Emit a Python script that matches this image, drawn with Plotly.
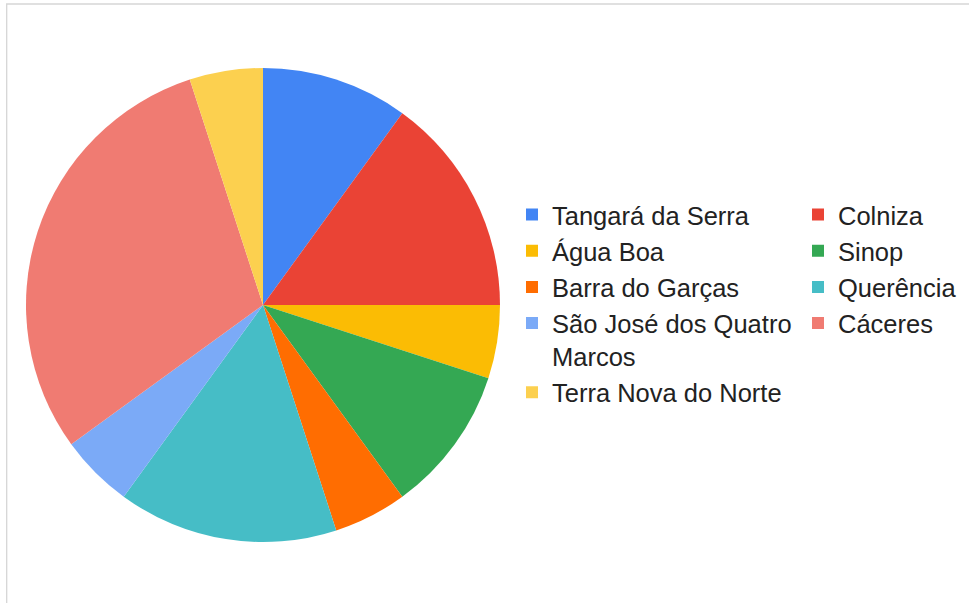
import plotly.graph_objects as go

# ---- data ----
cities = [
    "Tangará da Serra",
    "Colniza",
    "Água Boa",
    "Sinop",
    "Barra do Garças",
    "Querência",
    "São José dos Quatro<br>Marcos",
    "Cáceres",
    "Terra Nova do Norte",
]
counts = [2, 3, 1, 2, 1, 3, 1, 6, 1]
colors = ["#4285F4", "#EA4335", "#FBBC04", "#34A853", "#FF6D01",
          "#46BDC6", "#7BAAF7", "#F07B72", "#FCD04F"]

W, H = 969, 603
ML, MR, MT, MB = 0, 269, 68, 61
PW, PH = W - ML - MR, H - MT - MB

fig = go.Figure(
    go.Pie(
        labels=cities,
        values=counts,
        sort=False,
        direction="clockwise",
        rotation=0,
        textinfo="none",
        marker=dict(colors=colors, line=dict(width=0)),
        domain=dict(x=[26 / PW, 500 / PW], y=[0, 1]),
        hovertemplate="%{label}: %{value} (%{percent})<extra></extra>",
    )
)

fig.update_layout(
    width=W,
    height=H,
    margin=dict(l=ML, r=MR, t=MT, b=MB, autoexpand=False),
    paper_bgcolor="white",
    plot_bgcolor="white",
    font=dict(family="Liberation Sans, Arial, sans-serif", color="#222222"),
    showlegend=True,
    legend=dict(
        orientation="h",
        x=512 / PW,
        xanchor="left",
        y=(H - MB - 191.5) / PH,
        yanchor="top",
        entrywidth=241,
        entrywidthmode="pixels",
        valign="top",
        font=dict(size=25.5, color="#222222",
                  family="Liberation Sans, Arial, sans-serif"),
        bgcolor="rgba(0,0,0,0)",
        borderwidth=0,
    ),
    shapes=[
        dict(type="rect", xref="paper", yref="paper",
             x0=6.7 / PW, x1=2.0,
             y0=-1.0, y1=(H - MB - 4) / PH,
             line=dict(color="#d6d6d6", width=1.3),
             fillcolor="rgba(0,0,0,0)", layer="below"),
    ],
)

fig.write_html(
    "out.html",
    config={"displayModeBar": False},
    post_script="document.body.style.margin='0';document.body.style.padding='0';",
)
